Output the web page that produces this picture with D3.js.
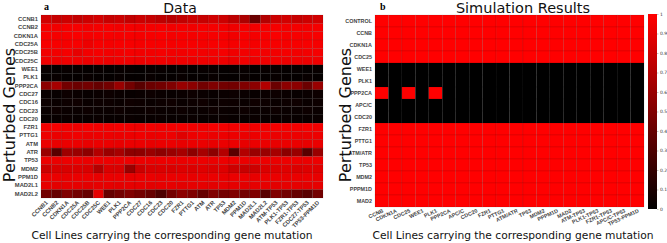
<!DOCTYPE html>
<html>
<head>
<meta charset="utf-8">
<script src="https://cdn.jsdelivr.net/npm/d3@7"></script>
<style>
 body { margin: 0; background: #fff; }
 svg { display: block; }
 .tick-lbl { font-family: "Liberation Sans", Arial, sans-serif; font-weight: bold; fill: #444; }
 .big { font-family: "DejaVu Sans", sans-serif; fill: #111; }
</style>
</head>
<body>
<div id="container"></div>
<script>
/* CONSTANTS AND GLOBALS */
const width = 667, height = 243

/* DATA */
const rowsA = ["CCNB1","CCNB2","CDKN1A","CDC25A","CDC25B","CDC25C","WEE1","PLK1","PPP2CA","CDC27","CDC16","CDC23","CDC20","FZR1","PTTG1","ATM","ATR","TP53","MDM2","PPM1D","MAD2L1","MAD2L2"]
const colsA = ["CCNB1","CCNB2","CDKN1A","CDC25A","CDC25B","CDC25C","WEE1","PLK1","PPP2CA","CDC27","CDC16","CDC23","CDC20","FZR1","PTTG1","ATM","ATR","TP53","MDM2","PPM1D","MAD2L1","MAD2L2","ATM-TP53","PLK1-TP53","FZR1-TP53","CDC27-TP53","TP53-PPM1D"]

// one row per perturbed gene, one value per cell line
const valuesA = [
 [0.82,0.78,0.80,0.77,0.80,0.83,0.78,0.80,0.76,0.80,0.78,0.74,0.72,0.76,0.80,0.78,0.82,0.80,0.74,0.68,0.42,0.70,0.80,0.82,0.78,0.80,0.82],
 [0.96,0.95,0.96,0.97,0.95,0.96,0.97,0.95,0.96,0.95,0.96,0.97,0.95,0.96,0.95,0.97,0.96,0.95,0.94,0.96,0.95,0.96,0.97,0.95,0.96,0.95,0.96],
 [0.97,0.96,0.97,0.98,0.96,0.97,0.97,0.96,0.97,0.96,0.97,0.98,0.96,0.97,0.96,0.97,0.97,0.96,0.95,0.97,0.96,0.97,0.98,0.96,0.97,0.96,0.97],
 [0.97,0.97,0.96,0.97,0.93,0.97,0.96,0.97,0.97,0.96,0.97,0.97,0.96,0.97,0.97,0.96,0.97,0.97,0.96,0.97,0.96,0.97,0.97,0.96,0.97,0.97,0.96],
 [0.95,0.95,0.96,0.90,0.95,0.96,0.95,0.95,0.96,0.95,0.95,0.96,0.95,0.95,0.96,0.95,0.95,0.96,0.94,0.95,0.96,0.95,0.95,0.96,0.95,0.95,0.96],
 [0.94,0.93,0.94,0.94,0.93,0.94,0.93,0.94,0.94,0.93,0.94,0.94,0.93,0.94,0.93,0.94,0.94,0.93,0.92,0.94,0.93,0.94,0.94,0.93,0.94,0.93,0.94],
 [0.03,0.02,0.03,0.03,0.02,0.03,0.02,0.03,0.03,0.02,0.03,0.03,0.02,0.03,0.02,0.03,0.03,0.02,0.03,0.03,0.02,0.03,0.03,0.02,0.03,0.02,0.03],
 [0.02,0.03,0.02,0.02,0.03,0.02,0.02,0.03,0.02,0.02,0.03,0.02,0.02,0.03,0.02,0.02,0.03,0.02,0.02,0.03,0.02,0.02,0.03,0.02,0.02,0.03,0.02],
 [0.55,0.65,0.45,0.42,0.45,0.40,0.45,0.60,0.45,0.35,0.42,0.45,0.50,0.60,0.55,0.45,0.50,0.45,0.45,0.50,0.55,0.70,0.42,0.55,0.55,0.42,0.60],
 [0.04,0.03,0.05,0.04,0.03,0.04,0.05,0.04,0.03,0.04,0.05,0.04,0.03,0.04,0.05,0.04,0.03,0.04,0.05,0.04,0.03,0.04,0.05,0.04,0.03,0.04,0.05],
 [0.05,0.04,0.05,0.06,0.04,0.05,0.05,0.04,0.06,0.05,0.04,0.05,0.06,0.04,0.05,0.06,0.04,0.05,0.05,0.04,0.06,0.05,0.04,0.05,0.06,0.04,0.05],
 [0.04,0.05,0.04,0.04,0.05,0.04,0.04,0.05,0.04,0.04,0.05,0.04,0.04,0.05,0.04,0.04,0.05,0.04,0.04,0.05,0.04,0.04,0.05,0.04,0.04,0.05,0.04],
 [0.03,0.03,0.04,0.03,0.03,0.04,0.03,0.03,0.04,0.03,0.03,0.04,0.03,0.03,0.04,0.03,0.03,0.04,0.03,0.03,0.04,0.03,0.03,0.04,0.03,0.03,0.04],
 [0.95,0.96,0.95,0.94,0.96,0.95,0.95,0.96,0.95,0.94,0.96,0.95,0.95,0.96,0.95,0.94,0.96,0.95,0.95,0.96,0.95,0.94,0.96,0.95,0.95,0.96,0.95],
 [0.93,0.92,0.93,0.94,0.92,0.93,0.93,0.92,0.93,0.94,0.92,0.93,0.93,0.88,0.93,0.94,0.92,0.93,0.93,0.92,0.93,0.94,0.92,0.93,0.93,0.92,0.93],
 [0.92,0.91,0.92,0.92,0.91,0.92,0.92,0.91,0.92,0.92,0.91,0.92,0.92,0.91,0.92,0.92,0.91,0.92,0.92,0.91,0.92,0.92,0.91,0.92,0.92,0.91,0.92],
 [0.60,0.35,0.62,0.60,0.55,0.70,0.60,0.65,0.55,0.55,0.60,0.55,0.60,0.65,0.55,0.65,0.55,0.70,0.35,0.70,0.60,0.60,0.65,0.55,0.60,0.35,0.60],
 [0.93,0.92,0.93,0.93,0.92,0.93,0.93,0.92,0.93,0.93,0.92,0.93,0.93,0.92,0.93,0.93,0.92,0.93,0.93,0.92,0.93,0.93,0.92,0.93,0.93,0.92,0.93],
 [0.80,0.85,0.85,0.86,0.85,0.70,0.86,0.85,0.60,0.80,0.85,0.86,0.85,0.87,0.86,0.88,0.86,0.87,0.80,0.78,0.80,0.86,0.87,0.88,0.86,0.87,0.88],
 [0.92,0.92,0.91,0.92,0.92,0.91,0.92,0.92,0.91,0.92,0.92,0.91,0.92,0.92,0.91,0.92,0.92,0.91,0.92,0.92,0.91,0.92,0.92,0.91,0.92,0.92,0.91],
 [0.90,0.89,0.90,0.90,0.89,0.90,0.90,0.89,0.90,0.90,0.89,0.90,0.90,0.89,0.90,0.90,0.89,0.90,0.90,0.89,0.90,0.90,0.89,0.90,0.90,0.89,0.90],
 [0.45,0.40,0.50,0.45,0.40,0.90,0.40,0.45,0.50,0.45,0.40,0.30,0.45,0.55,0.50,0.40,0.50,0.45,0.50,0.45,0.50,0.35,0.50,0.45,0.40,0.35,0.45]
]

const rowsB = ["CONTROL","CCNB","CDKN1A","CDC25","WEE1","PLK1","PPP2CA","APC/C","CDC20","FZR1","PTTG1","ATM/ATR","TP53","MDM2","PPPM1D","MAD2"]
const colsB = ["CCNB","CDKN1A","CDC25","WEE1","PLK1","PPP2CA","APC/C","CDC20","FZR1","PTTG1","ATM/ATR","TP53","MDM2","PPPM1D","MAD2","ATM-TP53","PLK1-TP53","FZR1-TP53","APC/C-TP53","TP53-PPM1D"]

const valuesB = [
 [1,1,1,1,1,1,1,1,1,1,1,1,1,1,1,1,1,1,1,1],
 [1,1,1,1,1,1,1,1,1,1,1,1,1,1,1,1,1,1,1,1],
 [1,1,1,1,1,1,1,1,1,1,1,1,1,1,1,1,1,1,1,1],
 [1,1,1,1,1,1,1,1,1,1,1,1,1,1,1,1,1,1,1,1],
 [0,0,0,0,0,0,0,0,0,0,0,0,0,0,0,0,0,0,0,0],
 [0,0,0,0,0,0,0,0,0,0,0,0,0,0,0,0,0,0,0,0],
 [1,0,1,0,1,0,0,0,0,0,0,0,0,0,0,0,0,0,0,0],
 [0,0,0,0,0,0,0,0,0,0,0,0,0,0,0,0,0,0,0,0],
 [0,0,0,0,0,0,0,0,0,0,0,0,0,0,0,0,0,0,0,0],
 [1,1,1,1,1,1,1,1,1,1,1,1,1,1,1,1,1,1,1,1],
 [1,1,1,1,1,1,1,1,1,1,1,1,1,1,1,1,1,1,1,1],
 [1,1,1,1,1,1,1,1,1,1,1,1,1,1,1,1,1,1,1,1],
 [1,1,1,1,1,1,1,1,1,1,1,1,1,1,1,1,1,1,1,1],
 [1,1,1,1,1,1,1,1,1,1,1,1,1,1,1,1,1,1,1,1],
 [1,1,1,1,1,1,1,1,1,1,1,1,1,1,1,1,1,1,1,1],
 [1,1,1,1,1,1,1,1,1,1,1,1,1,1,1,1,1,1,1,1]
]

const colorbarTicks = [0, 0.1, 0.2, 0.3, 0.4, 0.5, 0.6, 0.7, 0.8, 0.9, 1]

// black -> red colormap
const color = d3.scaleLinear().domain([0, 1]).range(["#000000", "#ff0000"]).clamp(true)

const svg = d3.select("#container")
 .append("svg")
 .attr("width", width)
 .attr("height", height)

function heatmap(opts) {
 const { rows, cols, values, x0, x1, y0, y1, angle, labelSize } = opts

 const xScale = d3.scaleBand().domain(cols).range([x0, x1])
 const yScale = d3.scaleBand().domain(rows).range([y0, y1])

 const cells = []
 values.forEach((row, i) => row.forEach((v, j) => cells.push({ r: rows[i], c: cols[j], v })))

 const g = svg.append("g")
 g.selectAll("rect")
   .data(cells)
   .join("rect")
   .attr("x", d => xScale(d.c))
   .attr("y", d => yScale(d.r))
   .attr("width", xScale.bandwidth())
   .attr("height", yScale.bandwidth())
   .attr("fill", d => color(d.v))
   .attr("stroke", "rgba(0,0,0,0.18)")
   .attr("stroke-width", 0.5)

 // y tick labels
 const yAxis = d3.axisLeft(yScale).tickSize(0).tickPadding(3)
 const yg = svg.append("g")
   .attr("transform", `translate(${x0}, 0)`)
   .call(yAxis)
 yg.select(".domain").remove()
 yg.selectAll("text").attr("class", "tick-lbl").style("font-size", labelSize + "px")

 // x tick labels (rotated)
 const xAxis = d3.axisBottom(xScale).tickSize(0).tickPadding(0)
 const xg = svg.append("g")
   .attr("transform", `translate(0, ${y1})`)
   .call(xAxis)
 xg.select(".domain").remove()
 xg.selectAll("text")
   .attr("class", "tick-lbl")
   .style("font-size", labelSize + "px")
   .attr("text-anchor", "end")
   .attr("dy", null)
   .attr("y", 0)
   .attr("transform", `translate(2, 5) rotate(${angle})`)
}

// PANEL A
heatmap({ rows: rowsA, cols: colsA, values: valuesA, x0: 41, x1: 323, y0: 15, y1: 198, angle: -45, labelSize: 5.8 })

// PANEL B
heatmap({ rows: rowsB, cols: colsB, values: valuesB, x0: 375, x1: 644, y0: 15, y1: 207, angle: -25, labelSize: 5.4 })

// TITLES
svg.append("text").attr("class", "big").attr("x", 180).attr("y", 13).attr("text-anchor", "middle").style("font-size", "14px").text("Data")
svg.append("text").attr("class", "big").attr("x", 523).attr("y", 13).attr("text-anchor", "middle").style("font-size", "14.5px").text("Simulation Results")

svg.append("text").attr("x", 44).attr("y", 10).style("font-family", "Liberation Serif, serif").style("font-weight", "bold").style("font-size", "10px").text("a")
svg.append("text").attr("x", 380).attr("y", 10).style("font-family", "Liberation Serif, serif").style("font-weight", "bold").style("font-size", "10px").text("b")

// AXIS TITLES
const yTitles = [{ x: 15, y: 115 }, { x: 351, y: 115 }]
yTitles.forEach(p => {
 svg.append("text")
   .attr("class", "big")
   .attr("transform", `translate(${p.x}, ${p.y}) rotate(-90)`)
   .attr("text-anchor", "middle")
   .style("font-size", "16px")
   .text("Perturbed Genes")
})
const xTitles = [172, 513]
xTitles.forEach(x => {
 svg.append("text")
   .attr("class", "big")
   .attr("x", x)
   .attr("y", 239)
   .attr("text-anchor", "middle")
   .style("font-size", "10.7px")
   .text("Cell Lines carrying the corresponding gene mutation")
})

// COLORBAR
const cbX = 648, cbW = 9, cbTop = 14, cbBottom = 209
const cbScale = d3.scaleLinear().domain([0, 1]).range([cbBottom, cbTop])
const defs = svg.append("defs")
const grad = defs.append("linearGradient").attr("id", "cb").attr("x1", 0).attr("y1", 1).attr("x2", 0).attr("y2", 0)
grad.selectAll("stop")
 .data(colorbarTicks)
 .join("stop")
 .attr("offset", d => d)
 .attr("stop-color", d => color(d))
svg.append("rect")
 .attr("x", cbX).attr("y", cbTop)
 .attr("width", cbW).attr("height", cbBottom - cbTop)
 .attr("fill", "url(#cb)")

const cbAxis = d3.axisRight(cbScale).tickValues(colorbarTicks).tickSize(1.5).tickPadding(1.5).tickFormat(d3.format("~g"))
const cbg = svg.append("g")
 .attr("transform", `translate(${cbX + cbW}, 0)`)
 .call(cbAxis)
cbg.select(".domain").remove()
cbg.selectAll("line").attr("stroke", "#666").attr("stroke-width", 0.4)
cbg.selectAll("text").style("font-family", "DejaVu Sans, sans-serif").style("font-size", "4.5px").attr("fill", "#333")
</script>
</body>
</html>
